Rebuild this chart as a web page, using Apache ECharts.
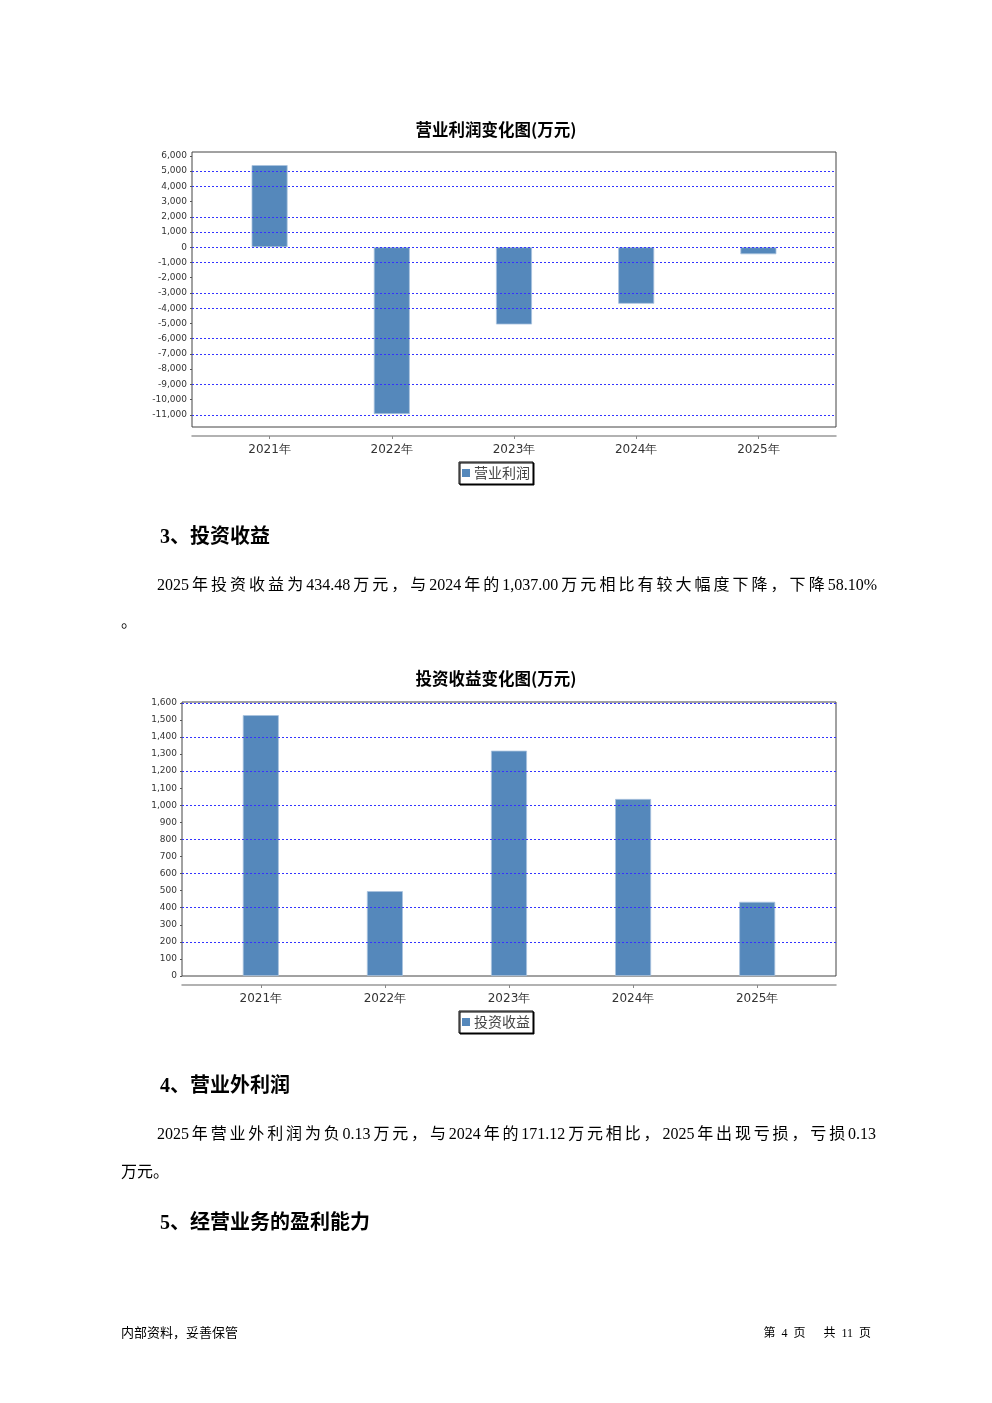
<!DOCTYPE html>
<html>
<head>
<meta charset="utf-8">
<script src="https://cdn.jsdelivr.net/npm/echarts@6/dist/echarts.min.js"></script>
<style>
  html, body { margin: 0; padding: 0; background: #fff; }
  #page { position: relative; width: 992px; height: 1403px; overflow: hidden; }
  #chart { position: absolute; left: 0; top: 0; width: 992px; height: 1403px; }
  .t { position: absolute; white-space: nowrap; color: #000; }
  .h { font-family: "Liberation Serif", "Noto Sans CJK SC", serif; font-weight: bold; font-size: 20px; line-height: 24px; }
  .b { font-family: "Liberation Serif", "Noto Sans CJK SC", serif; font-size: 16px; line-height: 20px; }
  .j { text-align: justify; text-align-last: justify; text-justify: inter-character; }
  .f { font-family: "Liberation Serif", "Noto Sans CJK SC", sans-serif; font-size: 13px; line-height: 16px; white-space: pre; }
</style>
</head>
<body>
<div id="page">
  <div id="chart"></div>
  <div class="t h" style="left:160px;top:524px;">3、投资收益</div>
  <div class="t b j" style="left:157px;top:575px;width:720px;">2025年投资收益为434.48万元，与2024年的1,037.00万元相比有较大幅度下降，下降58.10%</div>
  <div class="t b" style="left:121px;top:612px;">。</div>
  <div class="t h" style="left:160px;top:1073px;">4、营业外利润</div>
  <div class="t b j" style="left:157px;top:1124px;width:719px;">2025年营业外利润为负0.13万元，与2024年的171.12万元相比，2025年出现亏损，亏损0.13</div>
  <div class="t b" style="left:121px;top:1162px;">万元。</div>
  <div class="t h" style="left:160px;top:1210px;">5、经营业务的盈利能力</div>
  <div class="t f" style="left:121px;top:1325px;">内部资料，妥善保管</div>
  <div class="t f" style="right:121px;top:1325px;font-size:12px;word-spacing:3px;">第 4 页   共 11 页</div>
</div>
<script>
// ---- data ----
const categories = ['2021年', '2022年', '2023年', '2024年', '2025年'];
const opProfit = [5390, -10950, -5070, -3710, -460];
const invIncome = [1528, 497, 1320, 1037.00, 434.48];
const opTickValues = [6000, 5000, 4000, 3000, 2000, 1000, 0, -1000, -2000, -3000, -4000, -5000, -6000, -7000, -8000, -9000, -10000, -11000];
const opGridValues = [5000, 4000, 2000, 1000, 0, -1000, -3000, -4000, -6000, -7000, -9000, -11000];
const invTickValues = [0, 100, 200, 300, 400, 500, 600, 700, 800, 900, 1000, 1100, 1200, 1300, 1400, 1500, 1600];
const invGridValues = [200, 400, 600, 800, 1000, 1200, 1400, 1600];
const catIndex = [0, 1, 2, 3, 4];

const BAR = '#5588bb';
const FONT = 'DejaVu Sans';
const CJK = 'Noto Sans CJK SC';

function fmt(v) { return Number(v).toLocaleString('en-US'); }

function xAxisCfg(gi) {
  return {
    type: 'value', gridIndex: gi, min: -0.635, max: 4.635, offset: 9,
    splitLine: { show: false },
    axisLine: { show: true, onZero: false, lineStyle: { color: '#999', width: 1.5 } },
    axisTick: { show: true, length: 3, customValues: catIndex, lineStyle: { color: '#888' } },
    axisLabel: { customValues: catIndex, margin: 8, color: '#333', fontSize: 12, fontFamily: FONT,
      formatter: v => categories[Math.round(v)] }
  };
}
function yAxisCfg(gi, min, max, ticks) {
  return {
    type: 'value', gridIndex: gi, min: min, max: max, position: 'left',
    splitLine: { show: false },
    axisLine: { show: false, onZero: false },
    axisTick: { show: true, length: 2, customValues: ticks, lineStyle: { color: '#555' } },
    axisLabel: { customValues: ticks, margin: 5, color: '#333', fontSize: 9, fontFamily: FONT, formatter: fmt }
  };
}
function gridLines(gi, vals) {
  return {
    type: 'line', xAxisIndex: gi, yAxisIndex: gi, data: [], z: 1, silent: true,
    markLine: {
      silent: true, symbol: 'none', label: { show: false },
      lineStyle: { color: '#3333ff', type: [2, 2], width: 1 },
      data: vals.map(v => ({ yAxis: v }))
    }
  };
}
function legendCfg(name, top) {
  return {
    data: [name], top: top, left: 'center', orient: 'horizontal',
    icon: 'rect', itemWidth: 8, itemHeight: 8, itemGap: 4,
    itemStyle: { borderWidth: 0, color: BAR },
    padding: [3, 3, 3, 3], borderColor: '#000', borderWidth: 1, backgroundColor: '#fff',
    shadowColor: '#000', shadowOffsetX: 1, shadowOffsetY: 1, shadowBlur: 0,
    textStyle: { fontSize: 14, color: '#444', fontFamily: CJK, lineHeight: 16, padding: [0, 0, 0, -1] }
  };
}

const chart = echarts.init(document.getElementById('chart'), null, { renderer: 'canvas' });
chart.setOption({
  animation: false,
  backgroundColor: '#fff',
  title: [
    { text: '营业利润变化图(万元)', left: 'center', top: 121, padding: 0,
      textStyle: { fontSize: 16.5, fontWeight: 'bold', color: '#000', fontFamily: CJK } },
    { text: '投资收益变化图(万元)', left: 'center', top: 670, padding: 0,
      textStyle: { fontSize: 16.5, fontWeight: 'bold', color: '#000', fontFamily: CJK } }
  ],
  legend: [legendCfg('营业利润', 462), legendCfg('投资收益', 1011)],
  grid: [
    { left: 192, top: 152, width: 644, height: 275, show: true, borderColor: '#444', borderWidth: 1, backgroundColor: '#fff' },
    { left: 182, top: 702, width: 654, height: 274, show: true, borderColor: '#444', borderWidth: 1, backgroundColor: '#fff' }
  ],
  xAxis: [xAxisCfg(0), xAxisCfg(1)],
  yAxis: [yAxisCfg(0, -11800, 6250, opTickValues), yAxisCfg(1, 0, 1605, invTickValues)],
  series: [
    gridLines(0, opGridValues),
    gridLines(1, invGridValues),
    { name: '营业利润', type: 'bar', xAxisIndex: 0, yAxisIndex: 0, z: 3, barWidth: 36,
      itemStyle: { color: BAR, borderColor: '#a9c3de', borderWidth: 0.8 },
      data: opProfit.map((v, i) => [catIndex[i], v]) },
    { name: '投资收益', type: 'bar', xAxisIndex: 1, yAxisIndex: 1, z: 3, barWidth: 36,
      itemStyle: { color: BAR, borderColor: '#a9c3de', borderWidth: 0.8 },
      data: invIncome.map((v, i) => [catIndex[i], v]) }
  ]
});
</script>
</body>
</html>
